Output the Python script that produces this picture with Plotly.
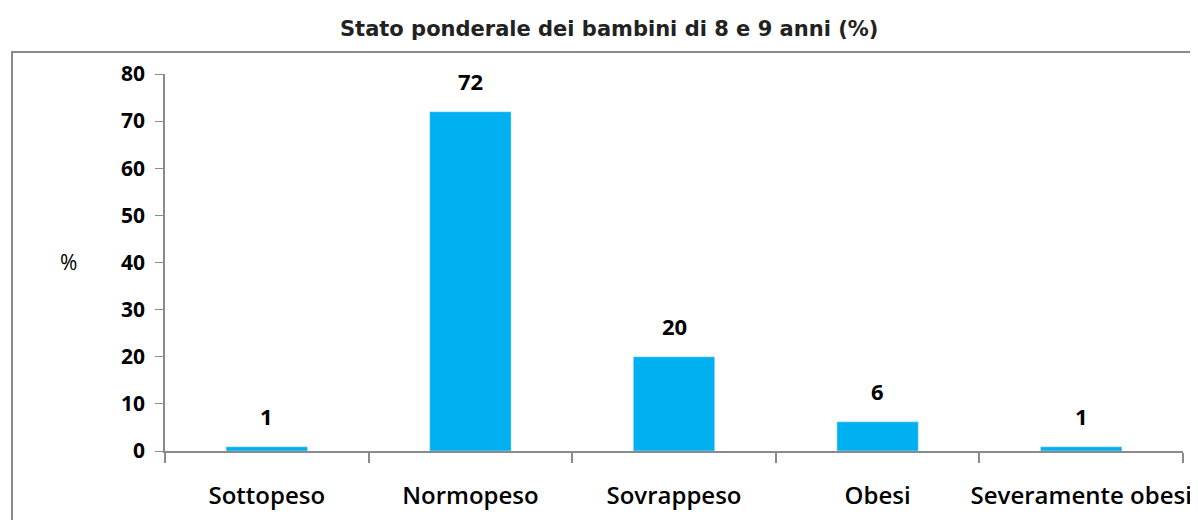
import plotly.graph_objects as go

categories = ["Sottopeso", "Normopeso", "Sovrappeso", "Obesi", "Severamente obesi"]
values = [0.9, 72, 20, 6.2, 0.9]
labels = ["1", "72", "20", "6", "1"]
title_text = "Stato ponderale dei bambini di 8 e 9 anni (%)"
y_ticks = [0, 10, 20, 30, 40, 50, 60, 70, 80]

OFF = 8  # page offset of the figure inside the browser page
W, H = 1198 - OFF, 520 - OFF
# target page pixel positions of plot area
PL, PR, PT, PB = 165, 1183, 74, 451
L, R, T, B = PL - OFF, (W + OFF) - PR, PT - OFF, (H + OFF) - PB
pw, ph = PR - PL, PB - PT

def px_x(p):
    return (p - PL) / pw

def px_y(p):
    return (PB - p) / ph

fig = go.Figure()
fig.add_trace(go.Bar(
    x=categories, y=values, marker_color="#00B0F0", width=0.4,
    hoverinfo="x+y",
))

for c, v, t in zip(categories, values, labels):
    fig.add_annotation(x=c, y=v, text=t, showarrow=False,
                       yanchor="bottom", yshift=14,
                       font=dict(family="Open Sans", size=22, color="#000000", weight="bold"))

fig.add_annotation(xref="paper", yref="paper", x=px_x(68), y=px_y(262),
                   text="%", showarrow=False, xanchor="center", yanchor="middle",
                   font=dict(family="Open Sans", size=21, color="#000000"))

fig.add_annotation(xref="paper", yref="paper", x=px_x(609), y=px_y(29),
                   text=title_text, showarrow=False, xanchor="center", yanchor="middle",
                   font=dict(family="DejaVu Sans", size=21, color="#222222", weight="bold"))

fig.add_shape(type="rect", xref="paper", yref="paper",
              x0=px_x(12), x1=px_x(1215), y0=px_y(540), y1=px_y(52),
              line=dict(color="#8a8a8a", width=2), fillcolor="rgba(0,0,0,0)", layer="below")

fig.update_layout(
    width=W, height=H,
    margin=dict(l=L, r=R, t=T, b=B, pad=0, autoexpand=False),
    paper_bgcolor="white", plot_bgcolor="white",
    showlegend=False,
    xaxis=dict(showline=True, linecolor="#8a8a8a", linewidth=2,
               ticks="outside", tickson="boundaries", ticklen=10, tickcolor="#8a8a8a",
               tickwidth=1.5, showgrid=False, tickangle=0, automargin=False,
               tickfont=dict(family="Open Sans", size=24, color="#000000", weight=600),
               ticklabelstandoff=22),
    yaxis=dict(range=[0, 80], tickvals=y_ticks, showline=True, linecolor="#8a8a8a",
               linewidth=1.5, ticks="outside", ticklen=8, tickcolor="#8a8a8a",
               showgrid=False, zeroline=False, automargin=False,
               tickfont=dict(family="Open Sans", size=21, color="#000000", weight="bold"),
               ticklabelstandoff=6),
)

fig.write_html("out.html")
